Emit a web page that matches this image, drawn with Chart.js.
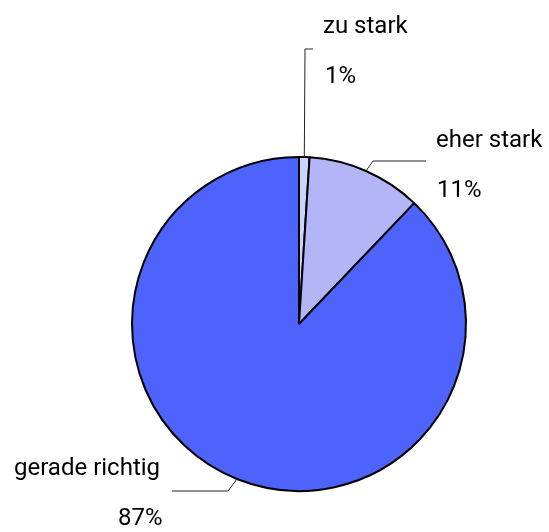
<!DOCTYPE html>
<html>
<head>
<meta charset="utf-8">
<script src="https://cdn.jsdelivr.net/npm/chart.js@4"></script>
<style>
html,body{margin:0;padding:0;background:#fff;}
#wrap{width:549px;height:532px;position:relative;}
</style>
</head>
<body>
<div id="wrap"><canvas id="c" width="549" height="532"></canvas></div>
<script>
const categories = ["zu stark", "eher stark", "gerade richtig"];
const values = [1, 11, 87];
const percentLabels = ["1%", "11%", "87%"];
const colors = ["#c9d5fb", "#b3b5f7", "#4d63fb"];

// label layout: name position, percent position, leader elbow/end
const labelLayout = [
  {name:[323,33], pct:[325,83], elbow:[305,49], end:[313,49]},
  {name:[436,147], pct:[437,197], elbow:[373,161], end:[426,161]},
  {name:[14,475], pct:[118,525], elbow:[228,491], end:[172,491]}
];

const labelPlugin = {
  id:'labels',
  afterDatasetsDraw(chart){
    const ctx = chart.ctx;
    const meta = chart.getDatasetMeta(0);
    ctx.save();
    ctx.font = '24px Roboto, "DejaVu Sans", sans-serif';
    ctx.fillStyle = '#000';
    ctx.textBaseline = 'alphabetic';
    ctx.textAlign = 'left';
    meta.data.forEach((arc, i) => {
      const p = arc.getProps(['x','y','startAngle','endAngle','outerRadius'], true);
      const mid = (p.startAngle + p.endAngle)/2;
      const ax = p.x + Math.cos(mid)*p.outerRadius;
      const ay = p.y + Math.sin(mid)*p.outerRadius;
      const L = labelLayout[i];
      ctx.strokeStyle = '#222';
      ctx.lineWidth = 1;
      ctx.beginPath();
      ctx.moveTo(ax, ay);
      ctx.lineTo(L.elbow[0], L.elbow[1]);
      ctx.lineTo(L.end[0], L.end[1]);
      ctx.stroke();
      ctx.fillText(categories[i], L.name[0], L.name[1]);
      ctx.fillText(percentLabels[i], L.pct[0], L.pct[1]);
    });
    ctx.restore();
  }
};

new Chart(document.getElementById('c'), {
  type:'pie',
  data:{
    labels:categories,
    datasets:[{
      data:values,
      backgroundColor:colors,
      borderColor:'#000',
      borderWidth:2
    }]
  },
  options:{
    responsive:false,
    animation:false,
    radius:167,
    layout:{padding:{left:129,right:80,top:154,bottom:38}},
    plugins:{legend:{display:false},tooltip:{enabled:false}}
  },
  plugins:[labelPlugin]
});
</script>
</body>
</html>
